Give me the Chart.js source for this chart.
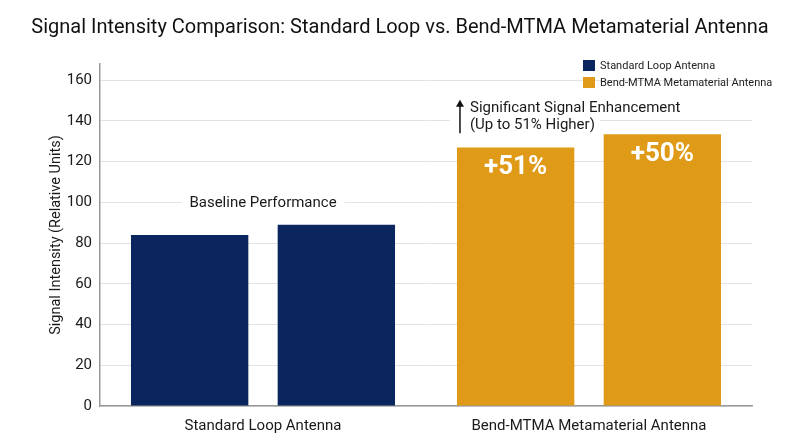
<!DOCTYPE html>
<html>
<head>
<meta charset="utf-8">
<script src="https://cdn.jsdelivr.net/npm/chart.js@4.4.1/dist/chart.umd.min.js"></script>
<style>
  html, body { margin: 0; padding: 0; background: #fff; }
  #wrap { width: 800px; height: 447px; position: relative; }
</style>
</head>
<body>
<div id="wrap"><canvas id="signalChart"></canvas></div>
<script>
// data
const categories = ['Standard Loop Antenna', 'Bend-MTMA Metamaterial Antenna'];
const firstBarValues = [84, 127];
const secondBarValues = [89, 133.5];
const firstBarLabels = ['', '+51%'];
const secondBarLabels = ['', '+50%'];
const legendNames = ['Standard Loop Antenna', 'Bend-MTMA Metamaterial Antenna'];
const yTickValues = [0, 20, 40, 60, 80, 100, 120, 140, 160];

const NAVY = '#0b255e';
const GOLD = '#df9a17';
const categoryColors = [NAVY, GOLD];
const FONT = 'Roboto, "Liberation Sans", sans-serif';

// draws the two-line legend, the in-bar percentages and the notes
const notesPlugin = {
    id: 'notes',
    afterDatasetsDraw(chart) {
        const ctx = chart.ctx;
        const x = chart.scales.x;
        const y = chart.scales.y;
        ctx.save();

        // percent labels inside the gold bars
        ctx.fillStyle = '#ffffff';
        ctx.font = 'bold 26px ' + FONT;
        ctx.textAlign = 'center';
        ctx.textBaseline = 'middle';
        [firstBarLabels, secondBarLabels].forEach((labels, di) => {
            const meta = chart.getDatasetMeta(di);
            labels.forEach((txt, i) => {
                if (!txt) return;
                const bar = meta.data[i];
                ctx.fillText(txt, bar.x, bar.y + 20);
            });
        });

        // baseline note over the navy group
        ctx.font = '15px ' + FONT;
        const bx = x.getPixelForValue(0);
        const by = y.getPixelForValue(100);
        const bw = ctx.measureText('Baseline Performance').width;
        ctx.fillStyle = '#ffffff';
        ctx.fillRect(bx - bw / 2 - 8, by - 10, bw + 16, 20);
        ctx.fillStyle = '#1a1a1a';
        ctx.fillText('Baseline Performance', bx, by + 1);

        // enhancement note with arrow
        const left = chart.getDatasetMeta(0).data[1];
        const ax = left.x - left.width / 2 + 3;
        ctx.fillStyle = '#ffffff';
        ctx.fillRect(ax - 10, y.getPixelForValue(150), 150, y.getPixelForValue(134) - y.getPixelForValue(150));
        ctx.strokeStyle = '#111';
        ctx.fillStyle = '#111';
        ctx.lineWidth = 1.5;
        ctx.beginPath();
        ctx.moveTo(ax, y.getPixelForValue(134));
        ctx.lineTo(ax, y.getPixelForValue(149));
        ctx.stroke();
        ctx.beginPath();
        const tipY = y.getPixelForValue(150.5);
        ctx.moveTo(ax, tipY);
        ctx.lineTo(ax - 4, tipY + 7);
        ctx.lineTo(ax + 4, tipY + 7);
        ctx.closePath();
        ctx.fill();
        ctx.fillStyle = '#1a1a1a';
        ctx.textAlign = 'left';
        ctx.fillText('Significant Signal Enhancement', ax + 10, y.getPixelForValue(146.5));
        ctx.fillText('(Up to 51% Higher)', ax + 10, y.getPixelForValue(138));

        // legend, stacked in the top right
        ctx.font = '11px ' + FONT;
        legendNames.forEach((name, i) => {
            const ly = 60 + i * 17;
            ctx.fillStyle = categoryColors[i];
            ctx.fillRect(583, ly, 12, 11);
            ctx.fillStyle = '#222';
            ctx.fillText(name, 600, ly + 6);
        });
        ctx.restore();
    }
};

new Chart(document.getElementById('signalChart').getContext('2d'), {
    type: 'bar',
    data: {
        labels: categories,
        datasets: [{
            label: 'Bar 1',
            data: firstBarValues,
            backgroundColor: categoryColors,
            barPercentage: 0.8,
            categoryPercentage: 0.9
        }, {
            label: 'Bar 2',
            data: secondBarValues,
            backgroundColor: categoryColors,
            barPercentage: 0.8,
            categoryPercentage: 0.9
        }]
    },
    options: {
        responsive: true,
        maintainAspectRatio: false,
        animation: false,
        layout: {
            padding: { left: 0, right: 0, top: 0, bottom: 1 }
        },
        plugins: {
            legend: { display: false },
            tooltip: { enabled: false },
            title: {
                display: true,
                text: 'Signal Intensity Comparison: Standard Loop vs. Bend-MTMA Metamaterial Antenna',
                color: '#111',
                font: { family: FONT, size: 20, weight: 'normal' },
                padding: { top: 16, bottom: 24 }
            }
        },
        scales: {
            x: {
                grid: { display: false, drawTicks: false },
                border: { color: '#999', width: 1.5 },
                ticks: {
                    color: '#1a1a1a',
                    font: { family: FONT, size: 15 },
                    padding: 11
                }
            },
            y: {
                min: 0,
                max: 168,
                afterBuildTicks(scale) {
                    scale.ticks = yTickValues.map(v => ({ value: v }));
                },
                afterFit(scale) {
                    scale.width = 100;
                },
                grid: { color: '#e3e3e3', drawTicks: false },
                border: { color: '#999', width: 1.5 },
                ticks: {
                    color: '#1a1a1a',
                    font: { family: FONT, size: 15 },
                    padding: 8
                },
                title: {
                    display: true,
                    text: 'Signal Intensity (Relative Units)',
                    color: '#1a1a1a',
                    font: { family: FONT, size: 14.5 },
                    padding: { top: 48, bottom: 0 }
                }
            },
            // empty right axis that only reserves the blank strip on the right
            yRight: {
                position: 'right',
                grid: { display: false, drawTicks: false },
                border: { display: false },
                ticks: { display: false },
                afterFit(scale) {
                    scale.width = 48;
                }
            }
        }
    },
    plugins: [notesPlugin]
});
</script>
</body>
</html>
